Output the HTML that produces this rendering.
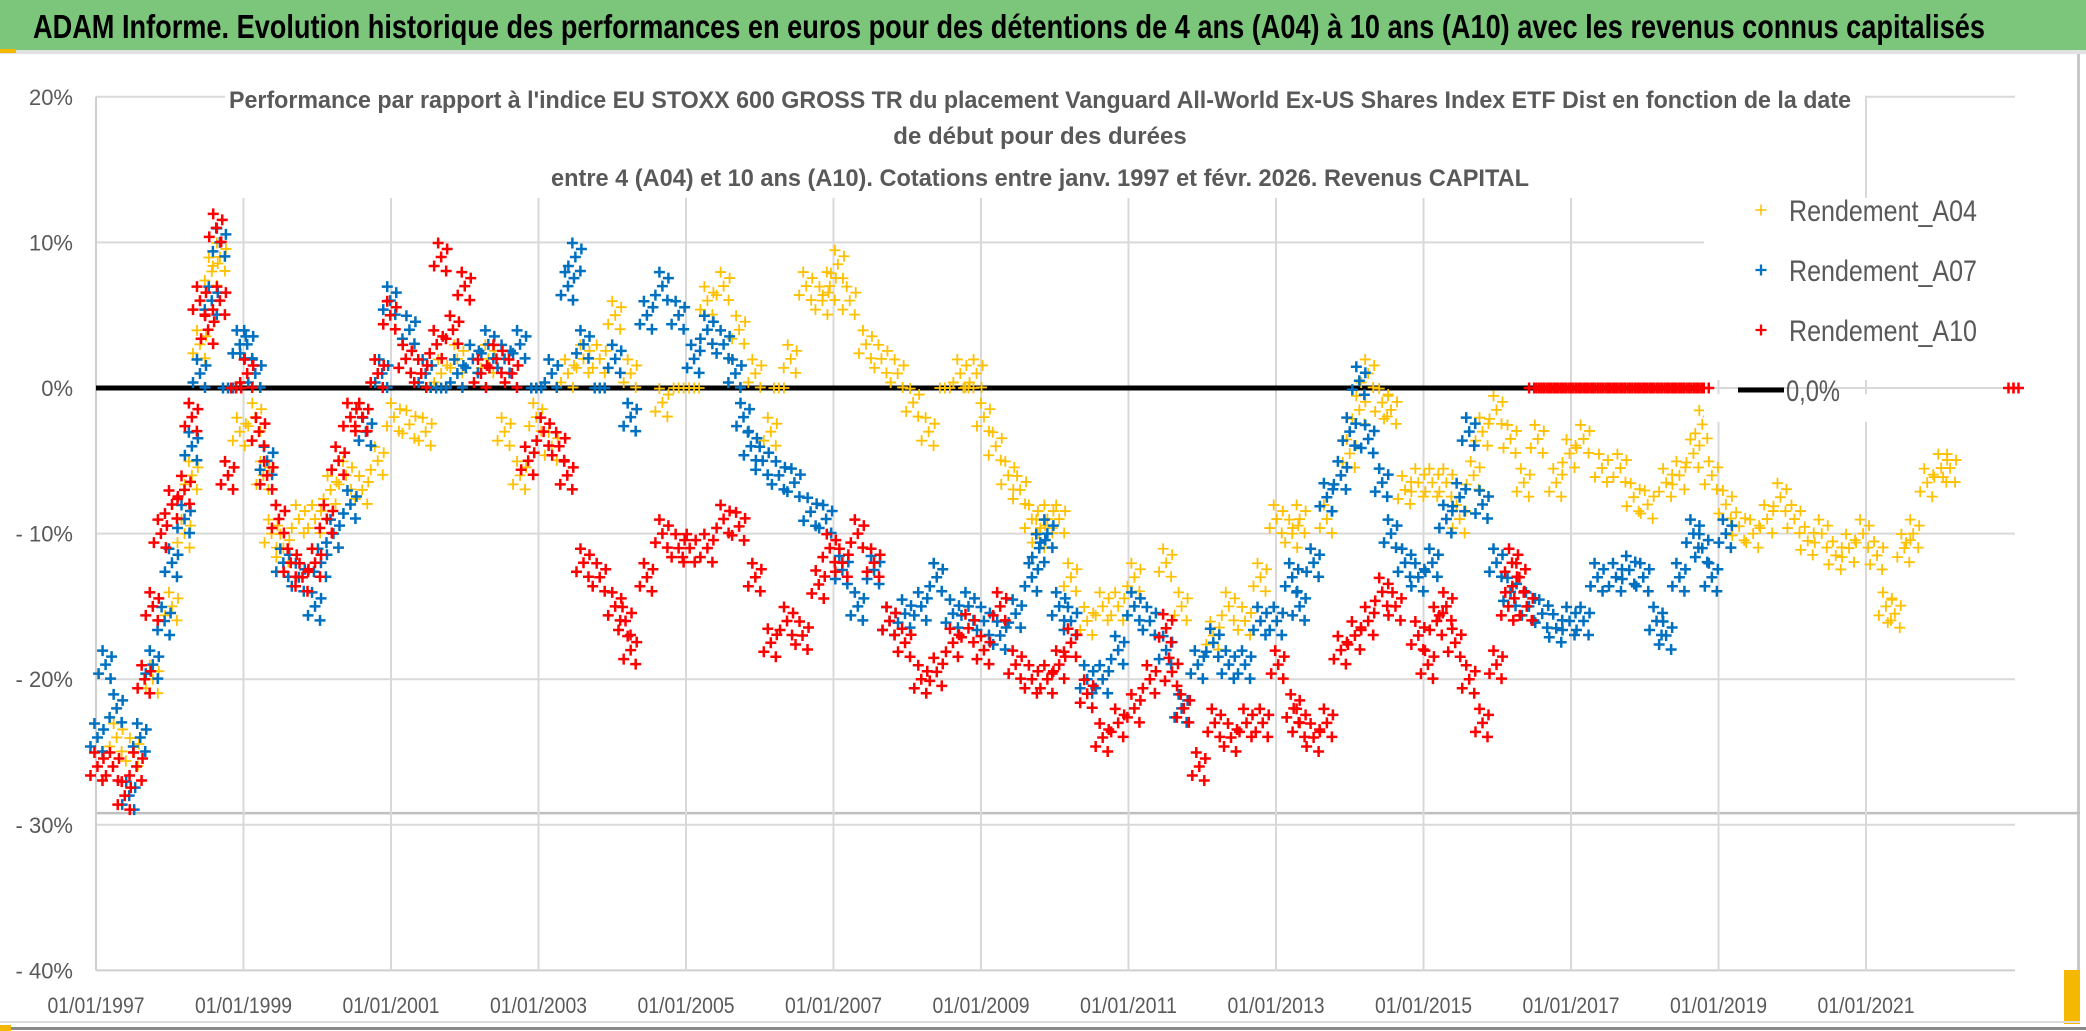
<!DOCTYPE html>
<html><head><meta charset="utf-8"><style>
html,body{margin:0;padding:0;background:#fff;}
svg{display:block;}
text{font-family:"Liberation Sans",sans-serif;}
</style></head><body>
<svg id="chart" width="2086" height="1031" viewBox="0 0 2086 1031">
<rect x="0" y="0" width="2086" height="1031" fill="#fff"/>
<rect x="0" y="0" width="2086" height="50" fill="#7cc67c"/>
<rect x="0" y="50" width="2086" height="4" fill="#e2e2e2"/>
<rect x="0" y="49" width="16" height="4" fill="#f5b800"/>
<text x="33" y="38" font-size="33" font-weight="bold" fill="#000" textLength="1952" lengthAdjust="spacingAndGlyphs">ADAM Informe. Evolution historique des performances en euros pour des détentions de 4 ans (A04) à 10 ans (A10) avec les revenus connus capitalisés</text>
<rect x="2077" y="54" width="3" height="970" fill="#c8c8c8"/>
<rect x="2064" y="970" width="16" height="54" fill="#f5b800"/>
<rect x="0" y="1021" width="2080" height="2" fill="#dcdcdc"/>
<rect x="0" y="1027" width="2086" height="3" fill="#8a8a8a"/>
<rect x="0" y="1025" width="11" height="6" fill="#f5b800"/>
<g id="grid"></g>
<g id="marks"></g>
<g id="overlay"></g>
</svg>
<script>
const xTickYears = [1997,1999,2001,2003,2005,2007,2009,2011,2013,2015,2017,2019,2021];
const xTickLabels = ["01/01/1997","01/01/1999","01/01/2001","01/01/2003","01/01/2005","01/01/2007","01/01/2009","01/01/2011","01/01/2013","01/01/2015","01/01/2017","01/01/2019","01/01/2021"];
const yTickValues = [20,10,0,-10,-20,-30,-40];
const yTickLabels = ["20%","10%","0%","- 10%","- 20%","- 30%","- 40%"];
const refLineValue = -29.2;

const datesA04 = [1997.02,1997.28,1997.5,1997.77,1998.03,1998.2,1998.3,1998.41,1998.57,1998.68,1998.79,1998.95,1999.05,1999.16,1999.27,1999.38,1999.54,1999.75,1999.97,2000.18,2000.39,2000.61,2000.82,2001.04,2001.25,2001.47,2001.68,2001.9,2002.11,2002.32,2002.54,2002.75,2002.97,2003.18,2003.4,2003.61,2003.83,2004.04,2004.25,2004.47,2004.68,2004.9,2005.11,2005.29,2005.51,2005.72,2005.94,2006.15,2006.26,2006.42,2006.63,2006.85,2006.95,2007.06,2007.22,2007.44,2007.65,2007.87,2008.08,2008.29,2008.51,2008.72,2008.83,2008.94,2009.04,2009.2,2009.37,2009.53,2009.69,2009.79,2009.9,2010.06,2010.22,2010.44,2010.65,2010.86,2011.08,2011.29,2011.51,2011.72,2011.94,2012.15,2012.36,2012.58,2012.79,2013.01,2013.22,2013.32,2013.51,2013.69,2013.88,2014.0,2014.13,2014.25,2014.44,2014.56,2014.75,2014.93,2015.12,2015.31,2015.49,2015.68,2015.8,2015.99,2016.18,2016.36,2016.55,2016.8,2016.98,2017.17,2017.42,2017.67,2017.85,2018.04,2018.29,2018.47,2018.66,2018.78,2018.91,2019.1,2019.28,2019.47,2019.66,2019.84,2020.03,2020.21,2020.4,2020.59,2020.77,2020.96,2021.15,2021.27,2021.39,2021.52,2021.64,2021.83,2022.02,2022.14];
const valuesA04 = [-24,-24,-25,-20,-15,-10,-6,3,8,9,0,-3,1,-2,-6,-10,-11,-9,-9,-7,-6,-7,-5,-2,-2.5,-3,1,2,2,2,-3,-6,-2,-4,1,2,2,5,1,5,-1,0,0,6,7,4,1,-3,0,2,7,6,7,8.5,6,3,2,1,-1,-3,0,1,0,1,-2,-4,-6,-7,-9,-10,-9,-9,-13,-16,-15,-15,-13,-16,-12,-15,-19,-17,-15,-16,-13,-9,-10,-9,-12,-9,-6,-4.5,-1.5,1,-1,-1.5,-7,-6.5,-6.5,-6.5,-9,-6,-3,-1.5,-3.5,-6.5,-3.5,-6.5,-4.5,-3.5,-5.5,-5.5,-7.5,-8,-6.5,-6,-4.5,-2.5,-6,-8,-9.5,-10,-9,-7.5,-9,-10.5,-10,-11.5,-11,-10,-11.5,-15,-15.5,-11,-10,-6.5,-5.5,-5.5,-6];

const datesA07 = [1997.02,1997.13,1997.28,1997.45,1997.6,1997.77,1997.93,1998.03,1998.2,1998.3,1998.41,1998.57,1998.68,1998.79,1998.95,1999.05,1999.16,1999.32,1999.54,1999.75,1999.97,2000.05,2000.22,2000.45,2000.66,2000.88,2000.99,2001.25,2001.47,2001.68,2001.9,2002.11,2002.32,2002.54,2002.75,2002.97,2003.18,2003.4,2003.5,2003.61,2003.83,2004.04,2004.25,2004.47,2004.68,2004.9,2005.11,2005.29,2005.51,2005.67,2005.78,2005.88,2006.04,2006.26,2006.47,2006.69,2006.9,2007.12,2007.33,2007.55,2007.76,2007.97,2008.19,2008.4,2008.62,2008.83,2009.04,2009.26,2009.47,2009.69,2009.79,2009.9,2010.06,2010.22,2010.44,2010.65,2010.86,2011.08,2011.29,2011.51,2011.72,2011.94,2012.15,2012.36,2012.58,2012.79,2013.01,2013.22,2013.32,2013.51,2013.69,2013.88,2014.0,2014.13,2014.25,2014.44,2014.56,2014.75,2014.93,2015.12,2015.31,2015.49,2015.62,2015.8,2015.99,2016.18,2016.43,2016.61,2016.8,2016.98,2017.17,2017.36,2017.61,2017.79,2017.98,2018.16,2018.29,2018.47,2018.66,2018.78,2018.91,2019.1];
const valuesA07 = [-24,-19,-22,-28,-24,-19,-16,-12,-9,-4,1,6,10,0,3,3,1,-5,-12,-13,-15,-12,-10,-8,-3,1,6,4,1,0,1,2,3,2,3,0,1,7,9,3,0,2,-2,5,7,5,2,4,3,1,-2,-4,-5,-6,-6.5,-8.5,-9,-12.5,-15,-12.5,-16,-15.5,-15,-13,-15.5,-15,-16,-17,-15.5,-13,-11,-10,-15,-16,-20,-20,-18,-15,-16,-18,-22,-19,-17.5,-19,-19,-16,-16,-13,-15,-12,-7.5,-6,-3,0.5,-3.5,-6.5,-10,-12,-13,-12,-9,-7.5,-3,-8,-12,-14,-15,-15.5,-16.5,-16,-16,-13,-13,-12.5,-13,-16,-17,-13,-10,-11,-13,-10];

const datesA10 = [1997.02,1997.23,1997.39,1997.55,1997.66,1997.77,1997.88,1998.03,1998.2,1998.3,1998.41,1998.52,1998.63,1998.68,1998.79,1998.9,1999.05,1999.21,1999.32,1999.48,1999.64,1999.8,1999.97,2000.13,2000.29,2000.45,2000.61,2000.82,2000.99,2001.2,2001.41,2001.62,2001.68,2001.84,2002.0,2002.22,2002.43,2002.64,2002.86,2003.07,2003.28,2003.39,2003.61,2003.83,2004.04,2004.18,2004.25,2004.47,2004.68,2004.9,2005.05,2005.29,2005.51,2005.72,2005.94,2006.15,2006.37,2006.58,2006.8,2006.95,2007.12,2007.33,2007.55,2007.76,2007.97,2008.19,2008.4,2008.62,2008.83,2009.04,2009.26,2009.47,2009.69,2009.9,2010.06,2010.22,2010.44,2010.65,2010.86,2011.08,2011.29,2011.51,2011.59,2011.75,2011.96,2012.17,2012.39,2012.6,2012.82,2013.03,2013.24,2013.32,2013.51,2013.69,2013.88,2014.07,2014.25,2014.44,2014.62,2014.93,2015.06,2015.18,2015.31,2015.43,2015.62,2015.8,2015.99,2016.15,2016.2,2016.3,2016.4,2016.5,2016.6,2016.7,2016.8,2016.9,2017.0,2017.1,2017.2,2017.3,2017.4,2017.5,2017.6,2017.7,2017.8,2017.9,2018.0,2018.1,2018.2,2018.3,2018.4,2018.5,2018.6,2018.7,2018.8,2023.0];
const valuesA10 = [-26,-26,-28,-26,-20,-15,-10,-8,-7,-2,6,4,11,6,-6,0,1,-3,-6,-9,-12,-13,-12,-9,-5,-2,-2,1,5,2,1,3,9,4,7,1,2,1,-5,-3,-4,-6,-12,-13,-15,-16,-18,-13,-10,-11,-11,-11,-9,-9.5,-13,-17.5,-16,-17,-13.5,-11,-12,-10,-12,-16,-17.5,-20,-19.5,-17.5,-16.5,-18,-15,-19,-20,-20,-19,-17.5,-21,-24,-23,-22,-20,-16.5,-19.5,-22,-26,-23,-24,-23,-23,-19,-22,-23,-24,-23,-18,-17,-16,-14,-15,-17,-19,-16,-15,-17.5,-20,-23,-19,-15,-12,-13,-15,0,0,0,0,0,0,0,0,0,0,0,0,0,0,0,0,0,0,0,0,0,0,0,0,0,0,0];

const NS = "http://www.w3.org/2000/svg";
const PL = 96, PR = 2015, Y0 = 388, PX_PER_PCT = 14.56, PX_PER_YEAR = 73.75;
function xs(year){ return PL + (year - 1997) * PX_PER_YEAR; }
function ys(v){ return Y0 - v * PX_PER_PCT; }
function mk(tag, attrs, parent){
  const el = document.createElementNS(NS, tag);
  for (const k in attrs) el.setAttribute(k, attrs[k]);
  parent.appendChild(el);
  return el;
}
const grid = document.getElementById('grid');
const marks = document.getElementById('marks');
const overlay = document.getElementById('overlay');

yTickValues.forEach((v, i) => {
  const l = mk('line', {x1: PL, x2: PR, y1: ys(v), y2: ys(v), stroke: v === -40 ? '#cfcfcf' : '#d9d9d9', 'stroke-width': 2}, grid);
  
  
  const t = mk('text', {x: 73, y: ys(v) + 8, 'text-anchor': 'end', 'font-size': 22, fill: '#595959'}, grid);
  t.textContent = yTickLabels[i];
  
  
});
const ref = mk('line', {x1: PL, x2: 2080, y1: ys(refLineValue), y2: ys(refLineValue), stroke: '#bfbfbf', 'stroke-width': 2.5}, grid);


xTickYears.forEach((yr, i) => {
  const l = mk('line', {x1: xs(yr), x2: xs(yr), y1: ys(20), y2: ys(-40), stroke: '#d9d9d9', 'stroke-width': 2}, grid);
  
  
  const t = mk('text', {x: xs(yr), y: 1013, 'text-anchor': 'middle', 'font-size': 22, fill: '#595959', textLength: 97, lengthAdjust: 'spacingAndGlyphs'}, grid);
  t.textContent = xTickLabels[i];
  
  
});
const yAxis = mk('line', {x1: PL, x2: PL, y1: ys(20), y2: ys(-40), stroke: '#cfcfcf', 'stroke-width': 2}, grid);



const zl = mk('line', {x1: PL, x2: 1703, y1: ys(0), y2: ys(0), stroke: '#000', 'stroke-width': 5}, marks);



const offs = [[0,0],[-7,9],[6,-8],[-3,-14],[5,14]];
const zeroOffs = [[0,0],[-5,0],[5,0]];
function plus(g, x, y, color, w){
  const s = 5.5;
  return mk('path', {d: `M${x-s},${y}H${x+s}M${x},${y-s}V${y+s}`, stroke: color, 'stroke-width': w, fill: 'none'}, g);
}
function series(dates, values, color, w, name){
  const g = mk('g', {}, marks);
  
  
  dates.forEach((d, i) => {
    const x = xs(d), y = ys(values[i]);
    const o = values[i] === 0 ? zeroOffs : offs;
    o.forEach(([dx, dy]) => {
      const p = plus(g, x + dx, y + dy, color, w);
      
      
    });
  });
}
series(datesA04, valuesA04, '#FFC000', 1.8, 'series-a04');
series(datesA07, valuesA07, '#0070C0', 2.5, 'series-a07');
series(datesA10, valuesA10, '#FF0000', 2.5, 'series-a10');

const tb = mk('rect', {x: 225, y: 78, width: 1640, height: 120, fill: '#fff'}, overlay);


const lb = mk('rect', {x: 1704, y: 198, width: 312, height: 182, fill: '#fff'}, overlay);


const lb2 = mk('rect', {x: 1704, y: 394, width: 312, height: 28, fill: '#fff'}, overlay);


const titleLines = [
  ["Performance par rapport à l'indice EU STOXX 600 GROSS TR  du placement Vanguard All-World Ex-US Shares Index ETF Dist en fonction de la date", 108, 1622],
  ["de début pour des durées", 144, 0],
  ["entre 4 (A04) et 10 ans (A10). Cotations entre janv. 1997 et févr. 2026. Revenus CAPITAL", 186, 978]
];
titleLines.forEach(([txt, y, len]) => {
  const a = {x: 1040, y: y, 'text-anchor': 'middle', 'font-size': 24, 'font-weight': 'bold', fill: '#595959'};
  if (len) { a.textLength = len; a.lengthAdjust = 'spacingAndGlyphs'; }
  const t = mk('text', a, overlay);
  t.textContent = txt;
  
  
});
const legendNames = ['Rendement_A04','Rendement_A07','Rendement_A10'];
const legendColors = ['#FFC000','#0070C0','#FF0000'];
const legendY = [210, 270, 330];
legendNames.forEach((n, i) => {
  const p = plus(overlay, 1761, legendY[i], legendColors[i], i === 0 ? 1.5 : 2.3);
  
  
  const t = mk('text', {x: 1789, y: legendY[i] + 11, 'font-size': 30, fill: '#595959', textLength: 188, lengthAdjust: 'spacingAndGlyphs'}, overlay);
  t.textContent = n;
  
  
});
const ll = mk('line', {x1: 1738, x2: 1784, y1: 390, y2: 390, stroke: '#000', 'stroke-width': 5}, overlay);


const lt = mk('text', {x: 1786, y: 401, 'font-size': 30, fill: '#595959', textLength: 54, lengthAdjust: 'spacingAndGlyphs'}, overlay);
lt.textContent = '0,0%';


const lp = plus(overlay, xs(datesA10[datesA10.length-1]), ys(valuesA10[valuesA10.length-1]), '#FF0000', 2.3);


</script>
</body></html>
